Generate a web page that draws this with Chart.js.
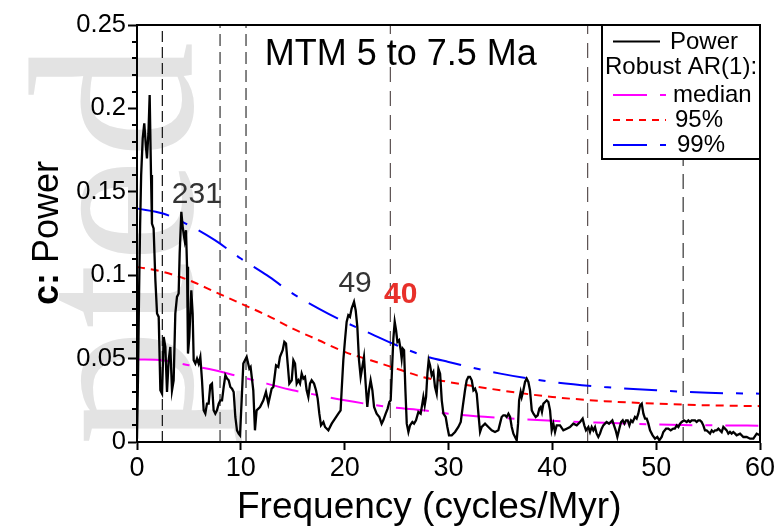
<!DOCTYPE html>
<html><head><meta charset="utf-8">
<script src="https://cdn.jsdelivr.net/npm/chart.js@4"></script>
<style>html,body{margin:0;padding:0;background:#fff}#wrap{width:777px;height:529px;position:relative}</style>
</head><body><div id="wrap"><canvas id="c" width="777" height="529"></canvas></div>
<script>
// ---------- DATA ----------
const powerFreq = [
0.00,0.10,0.20,0.30,0.40,0.55,0.70,0.85,0.96,1.10,
1.22,1.35,1.44,1.60,1.77,1.93,2.09,2.25,2.41,2.57,
2.73,2.89,3.05,3.21,3.37,3.53,3.69,3.85,4.01,4.11,
4.27,4.40,4.49,4.59,4.72,4.82,4.91,5.04,5.23,5.36,
5.46,5.62,5.78,5.94,6.10,6.26,6.42,6.58,6.74,6.90,
7.06,7.22,7.38,7.54,7.70,7.87,8.03,8.19,8.35,8.51,
8.67,8.83,8.99,9.15,9.31,9.47,9.63,9.79,9.92,10.08,
10.24,10.56,10.82,10.94,11.20,11.36,11.52,11.85,12.17,12.42,
12.65,12.97,13.13,13.39,13.61,13.77,14.03,14.19,14.35,14.51,
14.67,14.90,15.06,15.22,15.38,15.54,15.70,15.86,16.02,16.18,
16.34,16.50,16.66,16.82,17.05,17.24,17.40,17.56,17.72,17.95,
18.11,18.43,18.75,19.07,19.39,19.61,19.71,19.87,20.03,20.19,
20.35,20.51,20.67,20.90,21.06,21.22,21.38,21.54,21.70,21.86,
22.02,22.18,22.34,22.50,22.67,22.83,23.08,23.34,23.56,23.72,
23.95,24.14,24.30,24.43,24.53,24.69,24.82,24.95,25.08,25.24,
25.40,25.49,25.59,25.72,25.85,25.98,26.14,26.30,26.52,26.68,
26.87,27.10,27.32,27.48,27.58,27.71,27.84,27.97,28.09,28.22,
28.38,28.54,28.70,28.86,29.03,29.19,29.35,29.51,29.73,29.89,
30.05,30.31,30.63,30.95,31.18,31.37,31.59,31.75,31.91,32.07,
32.24,32.40,32.56,32.72,32.88,33.04,33.20,33.52,33.84,34.16,
34.48,34.80,34.96,35.12,35.28,35.45,35.60,35.77,35.93,36.09,
36.25,36.41,36.57,36.70,36.80,36.95,37.05,37.21,37.37,37.53,
37.69,37.85,38.02,38.18,38.40,38.59,38.75,38.88,39.00,39.14,
39.30,39.46,39.62,39.78,39.94,40.10,40.26,40.42,40.58,40.74,
41.06,41.38,41.70,42.02,42.35,42.67,42.92,43.08,43.24,43.47,
43.63,43.79,43.95,44.11,44.27,44.43,44.59,44.75,44.91,45.07,
45.23,45.46,45.62,45.78,45.94,46.10,46.26,46.45,46.62,46.78,
46.94,47.10,47.26,47.42,47.58,47.74,47.96,48.12,48.28,48.45,
48.61,48.77,48.93,49.09,49.25,49.41,49.66,49.89,50.11,50.30,
50.53,50.69,50.95,51.17,51.40,51.65,51.80,51.98,52.14,52.30,
52.46,52.68,52.94,53.10,53.26,53.42,53.58,53.74,53.90,54.06,
54.22,54.38,54.54,54.70,54.86,55.03,55.19,55.35,55.51,55.67,
55.83,55.99,56.15,56.31,56.47,56.63,56.79,56.95,57.11,57.27,
57.43,57.60,57.75,58.08,58.40,58.72,59.04,59.36,59.68,60.00];
const powerValue = [
0.002,0.040,0.090,0.130,0.160,0.182,0.191,0.178,0.170,0.185,
0.208,0.160,0.131,0.128,0.097,0.077,0.075,0.031,0.029,0.063,
0.057,0.030,0.049,0.057,0.031,0.037,0.077,0.087,0.089,0.113,
0.138,0.129,0.125,0.121,0.127,0.105,0.053,0.063,0.091,0.077,
0.049,0.047,0.050,0.047,0.051,0.037,0.019,0.017,0.023,0.023,
0.034,0.035,0.019,0.017,0.019,0.023,0.025,0.025,0.033,0.040,
0.038,0.037,0.033,0.032,0.030,0.015,0.007,0.005,0.004,0.025,
0.047,0.051,0.044,0.045,0.031,0.007,0.019,0.021,0.025,0.030,
0.023,0.032,0.033,0.046,0.045,0.051,0.055,0.060,0.059,0.047,
0.035,0.037,0.049,0.047,0.035,0.037,0.035,0.041,0.038,0.039,
0.031,0.027,0.035,0.037,0.035,0.031,0.026,0.017,0.010,0.012,
0.009,0.007,0.011,0.014,0.017,0.019,0.031,0.049,0.061,0.072,
0.076,0.075,0.080,0.084,0.079,0.069,0.049,0.039,0.045,0.051,
0.035,0.021,0.031,0.037,0.031,0.021,0.017,0.015,0.011,0.013,
0.017,0.020,0.024,0.025,0.039,0.062,0.072,0.067,0.060,0.061,
0.055,0.050,0.056,0.055,0.031,0.011,0.006,0.010,0.012,0.011,
0.013,0.018,0.017,0.023,0.027,0.022,0.027,0.041,0.049,0.046,
0.040,0.042,0.033,0.029,0.044,0.041,0.025,0.017,0.015,0.009,
0.004,0.004,0.006,0.009,0.012,0.021,0.031,0.037,0.039,0.039,
0.037,0.031,0.032,0.029,0.017,0.006,0.009,0.011,0.009,0.007,
0.006,0.007,0.011,0.015,0.016,0.016,0.015,0.017,0.015,0.009,
0.005,0.003,0.001,0.011,0.025,0.030,0.027,0.031,0.036,0.038,
0.036,0.031,0.019,0.017,0.015,0.016,0.020,0.021,0.018,0.023,
0.024,0.025,0.024,0.019,0.007,0.011,0.006,0.010,0.010,0.010,
0.007,0.008,0.009,0.011,0.010,0.012,0.014,0.010,0.007,0.009,
0.006,0.009,0.007,0.009,0.005,0.003,0.005,0.008,0.010,0.011,
0.012,0.011,0.012,0.013,0.010,0.007,0.003,0.008,0.012,0.013,
0.011,0.013,0.013,0.010,0.013,0.012,0.015,0.014,0.017,0.022,
0.023,0.017,0.014,0.014,0.011,0.007,0.004,0.002,0.003,0.001,
0.003,0.006,0.008,0.008,0.007,0.008,0.008,0.010,0.009,0.011,
0.012,0.013,0.012,0.013,0.012,0.013,0.013,0.013,0.012,0.013,
0.013,0.012,0.010,0.007,0.007,0.006,0.005,0.007,0.006,0.007,
0.007,0.008,0.007,0.006,0.009,0.008,0.007,0.005,0.006,0.005,
0.006,0.005,0.004,0.005,0.003,0.003,0.002,0.002,0.005,0.004];

const arFreq   = [0, 2.5, 5, 7.5, 10, 12.5, 15, 17.5, 20, 22.5, 25, 27.5, 30, 35, 40, 45, 50, 55, 60];
const arMedian = [0.0495,0.049,0.046,0.043,0.039,0.035,0.031,0.028,0.025,0.0225,0.0205,0.019,0.017,0.0145,0.0127,0.0115,0.0105,0.010,0.0098];
const ar95     = [0.105,0.102,0.097,0.090,0.083,0.076,0.068,0.061,0.054,0.049,0.044,0.039,0.036,0.031,0.027,0.0245,0.023,0.022,0.0215];
const ar99     = [0.140,0.137,0.130,0.121,0.110,0.100,0.089,0.080,0.072,0.065,0.058,0.052,0.048,0.041,0.036,0.033,0.031,0.0295,0.029];

const periodLineFreq = [2.44, 8.0, 10.5, 24.4, 43.4, 52.6];
const xTickValues = [0, 10, 20, 30, 40, 50, 60];
const yTickValues = [0, 0.05, 0.1, 0.15, 0.2, 0.25];
const yTickLabels = ['0', '0.05', '0.1', '0.15', '0.2', '0.25'];
const peakLabels = ['231', '49', '40'];
const peakLabelFreq = [3.35, 19.4, 23.8];
const peakLabelValue = [0.1435, 0.0900, 0.0833];
const titleText = 'MTM 5 to 7.5 Ma';
const legendLabels = ['Power', 'Robust AR(1):', 'median', '95%', '99%'];
const xTitle = 'Frequency (cycles/Myr)';
const yTitleBold = 'c:';
const yTitle = 'Power';

// ---------- STYLE ----------
const F = '"Liberation Sans", Arial, Helvetica, sans-serif';
const dashLong = [33, 13, 7, 13];
const periodLineStyle = [
  {color:'#111', width:1.2, dash:[11,5]},
  {color:'#666', width:1.6, dash:[12,6]},
  {color:'#666', width:1.6, dash:[12,6]},
  {color:'#5a5050', width:1.2, dash:[15,9]},
  {color:'#5a5050', width:1.2, dash:[15,9]},
  {color:'#333', width:1.2, dash:[15,8]}
];

const xy = (xs, ys) => xs.map((x, i) => ({x, y: ys[i]}));

const datasets = [
  {data: xy(powerFreq, powerValue), borderColor:'#000', borderWidth:2.3, tension:0},
  {data: xy(arFreq, arMedian), borderColor:'#ff00ff', borderWidth:2, borderDash:dashLong, cubicInterpolationMode:'monotone'},
  {data: xy(arFreq, ar95), borderColor:'#ff0000', borderWidth:2, borderDash:[8,6], cubicInterpolationMode:'monotone'},
  {data: xy(arFreq, ar99), borderColor:'#0000ff', borderWidth:2, borderDash:dashLong, cubicInterpolationMode:'monotone'}
];
periodLineFreq.forEach((f, i) => {
  const s = periodLineStyle[i];
  datasets.push({data: [{x:f, y:0}, {x:f, y:0.25}], borderColor:s.color, borderWidth:s.width, borderDash:s.dash});
});

const deco = {
  id: 'deco',
  beforeDraw(chart) {
    const ctx = chart.ctx;
    ctx.save();
    ctx.fillStyle = '#fff';
    ctx.fillRect(0, 0, chart.width, chart.height);
    ctx.translate(192, 446);
    ctx.rotate(-Math.PI / 2);
    ctx.font = '235px "Liberation Serif", "DejaVu Serif", serif';
    ctx.fillStyle = '#e3e3e3';
    ctx.textBaseline = 'alphabetic';
    ctx.fillText('pted', 0, 0);
    ctx.restore();
  },
  afterDatasetsDraw(chart) {
    const ctx = chart.ctx, a = chart.chartArea;
    const xs = chart.scales.x, ys = chart.scales.y;
    ctx.save();
    // minor ticks
    ctx.strokeStyle = '#000'; ctx.lineWidth = 2;
    for (let k = 1; k < 25; k++) {
      if (k % 5 === 0) continue;
      const y = Math.round(ys.getPixelForValue(k / 100)) ;
      ctx.beginPath(); ctx.moveTo(a.left - 5, y); ctx.lineTo(a.left, y); ctx.stroke();
    }
    // frame
    ctx.lineWidth = 2;
    ctx.strokeRect(a.left, a.top, a.right - a.left, a.bottom - a.top);
    // title
    ctx.fillStyle = '#000';
    ctx.font = '36px ' + F;
    ctx.textBaseline = 'alphabetic';
    ctx.textAlign = 'left';
    ctx.fillText(titleText, xs.getPixelForValue(12.3), ys.getPixelForValue(0.2258));
    // peak labels
    peakLabels.forEach((t, i) => {
      ctx.font = (i === 2 ? 'bold ' : '') + '30px ' + F;
      ctx.fillStyle = i === 2 ? '#e8302a' : '#333';
      ctx.fillText(t, xs.getPixelForValue(peakLabelFreq[i]), ys.getPixelForValue(peakLabelValue[i]));
    });
    // legend
    const lx = 602, ly = a.top, lw = a.right - 602, lh = 134;
    ctx.fillStyle = '#fff';
    ctx.fillRect(lx, ly, lw, lh);
    ctx.strokeStyle = '#000'; ctx.lineWidth = 2;
    ctx.strokeRect(lx, ly, lw, lh);
    ctx.fillStyle = '#000';
    ctx.font = '24px ' + F;
    ctx.fillText(legendLabels[0], 670, 48.5);
    ctx.fillText(legendLabels[1], 605, 73.5);
    ctx.fillText(legendLabels[2], 673, 101.5);
    ctx.fillText(legendLabels[3], 675, 126.5);
    ctx.fillText(legendLabels[4], 677, 151.5);
    const seg = (y, color, dash) => {
      ctx.strokeStyle = color; ctx.lineWidth = 2; ctx.setLineDash(dash);
      ctx.beginPath(); ctx.moveTo(613, y); ctx.lineTo(666, y); ctx.stroke();
    };
    ctx.strokeStyle = '#000'; ctx.lineWidth = 2; ctx.setLineDash([]);
    ctx.beginPath(); ctx.moveTo(613, 41.5); ctx.lineTo(660, 41.5); ctx.stroke();
    seg(95, '#ff00ff', [34, 13, 6, 20]);
    seg(120, '#ff0000', [7, 6]);
    seg(145, '#0000ff', [34, 13, 6, 20]);
    ctx.setLineDash([]);
    ctx.restore();
  },
  afterDraw(chart) {
    const ctx = chart.ctx;
    ctx.save();
    ctx.fillStyle = '#000';
    ctx.textBaseline = 'alphabetic';
    ctx.textAlign = 'left';
    ctx.font = '37px ' + F;
    ctx.fillText(xTitle, 237, 518);
    ctx.translate(58, 305);
    ctx.rotate(-Math.PI / 2);
    ctx.font = 'bold 36px ' + F;
    ctx.fillText(yTitleBold, 0, 0);
    const w = ctx.measureText(yTitleBold + ' ').width;
    ctx.font = '36px ' + F;
    ctx.fillText(yTitle, w, 0);
    ctx.restore();
  }
};

new Chart(document.getElementById('c'), {
  type: 'line',
  data: {datasets},
  plugins: [deco],
  options: {
    responsive: false, animation: false, devicePixelRatio: 1,
    parsing: true,
    layout: {padding: {left: 0, right: 17, top: 25, bottom: 0}},
    plugins: {legend: {display: false}, tooltip: {enabled: false}},
    elements: {point: {radius: 0}, line: {tension: 0, fill: false}},
    scales: {
      x: {
        type: 'linear', min: 0, max: 60,
        afterBuildTicks: s => { s.ticks = xTickValues.map(v => ({value: v})); },
        ticks: {font: {family: F, size: 27}, color: '#000', padding: 2, maxRotation: 0, autoSkip: false, callback: v => String(v)},
        grid: {drawOnChartArea: false, drawTicks: true, tickLength: 8, tickColor: '#000', tickWidth: 2},
        border: {color: '#000', width: 2},
        afterFit: s => { s.height = 87; s.paddingLeft = 0; s.paddingRight = 0; }
      },
      y: {
        type: 'linear', min: 0, max: 0.25,
        afterBuildTicks: s => { s.ticks = yTickValues.map(v => ({value: v})); },
        ticks: {font: {family: F, size: 25.5}, color: '#000', padding: 2, autoSkip: false, callback: (v, i) => yTickLabels[i]},
        grid: {drawOnChartArea: false, drawTicks: true, tickLength: 9, tickColor: '#000', tickWidth: 2},
        border: {color: '#000', width: 2},
        afterFit: s => { s.width = 137; s.paddingTop = 0; s.paddingBottom = 0; }
      }
    }
  }
});
</script></body></html>
